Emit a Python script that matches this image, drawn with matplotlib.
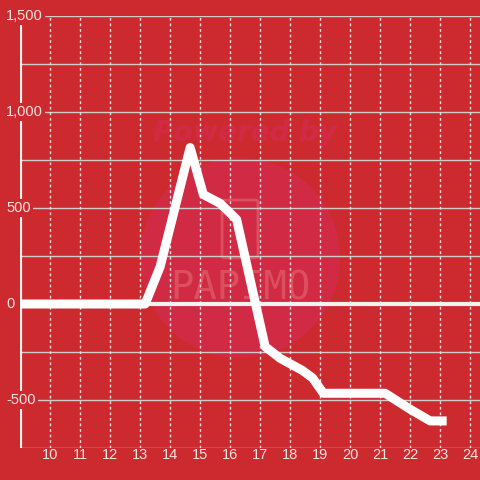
import matplotlib
matplotlib.use("Agg")
import matplotlib.pyplot as plt
from matplotlib.patches import Circle, FancyBboxPatch
from matplotlib.transforms import blended_transform_factory

# data
hours = [9.0, 13.17, 13.67, 14.67, 15.11, 15.67, 16.22, 17.17, 17.67, 18.4, 18.75, 19.11, 21.17, 22.0, 22.67, 23.22]
values = [0, 0, 194, 815, 570, 524, 440, -222, -283, -345, -385, -465, -465, -548, -609, -609]
y_ticks = [-500, 0, 500, 1000, 1500]
y_tick_labels = ["-500", "0", "500", "1,000", "1,500"]
y_grid = [-750, -500, -250, 250, 500, 750, 1000, 1250, 1500]
x_ticks = list(range(10, 25))

BG = "#cc2a2e"
TXT = "#f3e4e4"
GRID = "#d0cccc"
WM = "#d42a4c"

fig = plt.figure(figsize=(4.8, 4.8), dpi=100, facecolor=BG)

# watermark (figure level, behind the transparent axes)
fig.patches.append(Circle((240/480, 1 - 258/480), 100/480, transform=fig.transFigure,
                          facecolor=WM, alpha=0.75, edgecolor="none", zorder=-2))
fig.patches.append(FancyBboxPatch((224/480, 1 - 256/480), 32/480, 54/480,
                                  boxstyle="round,pad=0.004", transform=fig.transFigure,
                                  facecolor="none", edgecolor="#e0606a", lw=2, alpha=0.7, zorder=-1))
fig.text(245/480, 1 - 133/480, "Powered by", color=WM, alpha=0.8,
         fontsize=20, fontweight="bold", fontstyle="italic", ha="center", va="center",
         family="DejaVu Sans", zorder=-1)
fig.text(240/480, 1 - 288/480, "PAPIMO", color="#e0606a", alpha=0.7,
         fontsize=28, ha="center", va="center", family="DejaVu Sans Mono", zorder=-1)

ax = fig.add_axes([20/480, 32/480, 460/480, 432/480])
ax.patch.set_alpha(0)
ax.set_xlim(9, 24.33)
ax.set_ylim(-750, 1500)
for s in ax.spines.values():
    s.set_visible(False)
ax.set_xticks([])
ax.set_yticks([])

# grid
for y in y_grid:
    ax.axhline(y, color=GRID, lw=1, zorder=1)
for x in x_ticks:
    ax.axvline(x, color="#e8e0e0", lw=1, ls=(0, (2, 2)), zorder=1)
ax.axhline(0, color="#f5f2f2", lw=3, zorder=2)
ax.axvline(9, color="#f5f2f2", lw=3, zorder=2, ymax=1 - 8/432)

# line
ax.plot(hours, values, color="white", lw=6.5, solid_joinstyle="round",
        solid_capstyle="butt", zorder=3)

# y labels
tr = blended_transform_factory(fig.transFigure, ax.transData)
for v, lab in zip(y_ticks, y_tick_labels):
    ax.text(6/480, v, lab, transform=tr, ha="left", va="center", color=TXT,
            fontsize=10.5, family="Liberation Sans", zorder=4,
            bbox=dict(facecolor=BG, edgecolor="none", pad=1.5), clip_on=False)

# x labels
for x in x_ticks:
    ax.text(x, -750, str(x), transform=ax.transData, ha="center", va="top", color=TXT,
            fontsize=10.5, family="Liberation Sans", clip_on=False)

fig.savefig("out.png", dpi=100, facecolor=BG)
